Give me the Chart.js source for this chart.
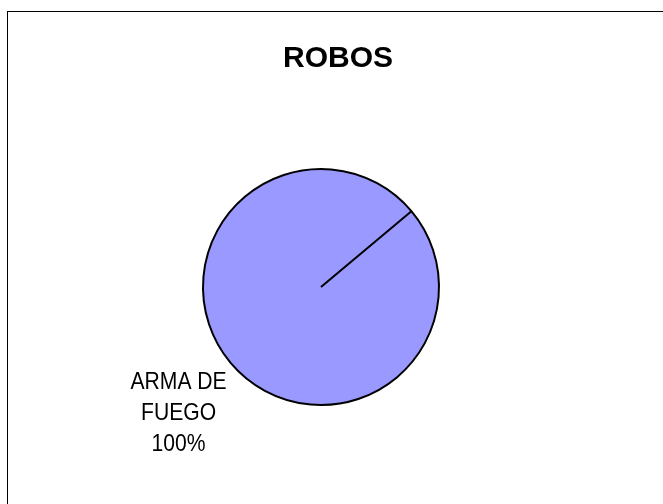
<!DOCTYPE html>
<html>
<head>
<meta charset="utf-8">
<script src="https://cdn.jsdelivr.net/npm/chart.js@4"></script>
<style>
    html, body { margin: 0; padding: 0; background: #ffffff; }
    #wrap { position: relative; width: 663px; height: 504px; }
</style>
</head>
<body>
<div id="wrap"><canvas id="robosChart" width="663" height="504"></canvas></div>
<script>
// Chart data
const chartTitle = 'ROBOS';
const categories = [['ARMA DE', 'FUEGO']];
const values = [100];
const sliceColors = ['#9999FF'];

/**
 * Draws the outer frame, the title and the outside slice labels
 */
const excelLook = {
    id: 'excelLook',
    afterDraw(chart) {
        const ctx = chart.ctx;
        ctx.save();

        // outer frame
        ctx.strokeStyle = '#000000';
        ctx.lineWidth = 1;
        ctx.strokeRect(7.5, 11.5, 720, 560);

        // title
        ctx.fillStyle = '#000000';
        ctx.font = 'bold 30px "Liberation Sans", Arial, sans-serif';
        ctx.textAlign = 'center';
        ctx.textBaseline = 'alphabetic';
        ctx.fillText(chartTitle, 338, 67);

        // slice labels, outside at mid angle (narrow look: squeeze horizontally)
        const meta = chart.getDatasetMeta(0);
        const total = values.reduce((a, b) => a + b, 0);
        const squeeze = 0.88;
        ctx.font = '24px "Liberation Sans", Arial, sans-serif';
        ctx.textBaseline = 'middle';
        meta.data.forEach((arc, i) => {
            const p = arc.getProps(['x', 'y', 'startAngle', 'endAngle', 'outerRadius'], true);
            const mid = (p.startAngle + p.endAngle) / 2;
            const dist = p.outerRadius * 1.62;
            const cx = p.x + Math.cos(mid) * dist + 4;
            const cy = p.y + Math.sin(mid) * dist + 3;
            const pct = Math.round(values[i] / total * 100) + '%';
            const lines = [].concat(categories[i], pct);
            const lh = 31;
            ctx.save();
            ctx.translate(cx, cy);
            ctx.scale(squeeze, 1);
            lines.forEach((t, k) => {
                ctx.fillText(t, 0, (k - (lines.length - 1) / 2) * lh);
            });
            ctx.restore();
        });
        ctx.restore();
    }
};

new Chart(document.getElementById('robosChart'), {
    type: 'pie',
    data: {
        labels: categories,
        datasets: [{
            data: values,
            backgroundColor: sliceColors,
            borderColor: '#000000',
            borderWidth: 2
        }]
    },
    options: {
        responsive: false,
        animation: false,
        rotation: 50,
        layout: {
            padding: { top: 168, bottom: 98, left: 0, right: 21 }
        },
        plugins: {
            legend: { display: false },
            tooltip: { enabled: false }
        }
    },
    plugins: [excelLook]
});
</script>
</body>
</html>
